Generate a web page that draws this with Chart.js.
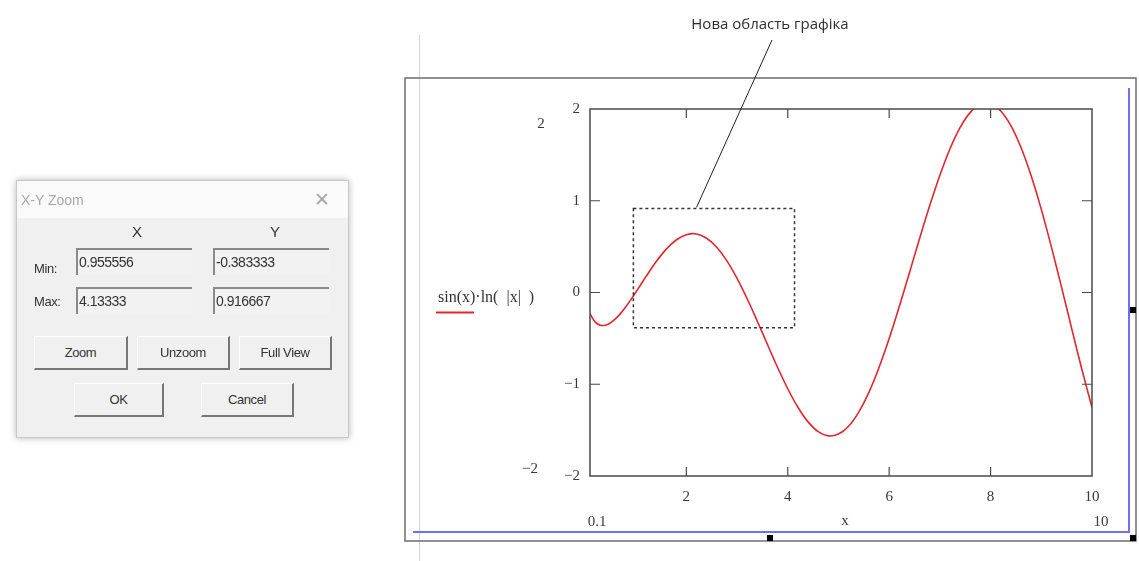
<!DOCTYPE html>
<html>
<head>
<meta charset="utf-8">
<script src="https://cdn.jsdelivr.net/npm/chart.js@4.4.0/dist/chart.umd.min.js"></script>
<style>
  body { margin: 0; width: 1139px; height: 561px; background: #fff; overflow: hidden; position: relative;
         font-family: "Liberation Sans", Arial, sans-serif; }
  #plot { position: absolute; left: 0; top: 0; }
  .note { position: absolute; left: 660px; top: 13px; width: 220px; text-align: center;
          font: 15px "Open Sans", "Noto Sans", sans-serif; color: #2e2e2e; }
  .dlg { position: absolute; left: 16px; top: 180px; width: 331px; height: 256px; background: #f0f0f0;
         border: 1px solid #c8c8c8; box-shadow: 0 0 7px rgba(0,0,0,0.28); }
  .dlg .bar { position: absolute; left: 0; top: 0; right: 0; height: 37px; background: #fafafa; }
  .dlg .ttl { position: absolute; left: 4px; top: 11px; font-size: 14px; color: #a8a8a8; }
  .dlg .cls { position: absolute; right: 18px; top: 7px; font-size: 19px; color: #a8a8a8; }
  .dlg .lbl { position: absolute; font-size: 13px; color: #333; letter-spacing: -0.4px; }
  .dlg .hdr { position: absolute; font-size: 15px; color: #333; }
  .dlg .fld { position: absolute; width: 116px; height: 27px; background: #f2f2f2;
              border-top: 2px solid #8a8a8a; border-left: 2px solid #8a8a8a;
              font-size: 14px; color: #333; line-height: 25px; padding-left: 1px; box-sizing: border-box;
              letter-spacing: -0.5px; }
  .dlg .btn { position: absolute; height: 34px; background: #f0f0f0; box-sizing: border-box;
              border-right: 2px solid #777; border-bottom: 2px solid #777;
              border-top: 1px solid #fff; border-left: 1px solid #fff;
              text-align: center; line-height: 31px; font-size: 13px; color: #333; letter-spacing: -0.4px; }
</style>
</head>
<body>
<canvas id="plot" width="1139" height="561"></canvas>
<div class="note">Нова область графіка</div>

<div class="dlg">
  <div class="bar"><span class="ttl">X-Y Zoom</span><span class="cls">✕</span></div>
  <span class="hdr" style="left:115px;top:42px">X</span>
  <span class="hdr" style="left:253px;top:42px">Y</span>
  <span class="lbl" style="left:17px;top:80px">Min:</span>
  <span class="lbl" style="left:17px;top:113px">Max:</span>
  <div class="fld" id="xmin" style="left:59px;top:67px"></div>
  <div class="fld" id="ymin" style="left:196px;top:67px"></div>
  <div class="fld" id="xmax" style="left:59px;top:106px"></div>
  <div class="fld" id="ymax" style="left:196px;top:106px"></div>
  <div class="btn" style="left:17px;top:155px;width:94px">Zoom</div>
  <div class="btn" style="left:120px;top:155px;width:93px">Unzoom</div>
  <div class="btn" style="left:222px;top:155px;width:93px">Full View</div>
  <div class="btn" style="left:57px;top:202px;width:90px">OK</div>
  <div class="btn" style="left:184px;top:202px;width:93px">Cancel</div>
</div>

<script>
// sin(x)*ln|x| sampled over the plotted range
const xValues = [0.1, 0.2, 0.3, 0.4, 0.5, 0.6, 0.7, 0.8, 0.9, 1.0, 1.1,
  1.2, 1.4, 1.6, 1.8, 2.0, 2.2, 2.4, 2.6, 2.8, 3.0, 3.2, 3.4, 3.6, 3.8, 4.0,
  4.2, 4.4, 4.6, 4.8, 5.0, 5.2, 5.4, 5.6, 5.8, 6.0, 6.2, 6.4, 6.6, 6.8, 7.0,
  7.2, 7.4, 7.6, 7.8, 8.0, 8.2, 8.4, 8.6, 8.8, 9.0, 9.2, 9.4, 9.6, 9.8, 10.0];
const yValues = [-0.230, -0.320, -0.356, -0.357, -0.332, -0.288, -0.230, -0.160, -0.083, 0.0, 0.085,
  0.170, 0.332, 0.470, 0.572, 0.630, 0.638, 0.591, 0.493, 0.345, 0.155, -0.068, -0.313, -0.567, -0.817, -1.049,
  -1.251, -1.410, -1.517, -1.563, -1.543, -1.457, -1.303, -1.088, -0.817, -0.501, -0.152, 0.216, 0.588, 0.947, 1.278,
  1.567, 1.799, 1.963, 2.051, 2.057, 1.979, 1.819, 1.580, 1.272, 0.906, 0.495, 0.056, -0.394, -0.837, -1.253];

const xTicks = [2, 4, 6, 8, 10];
const yTicks = [-2, -1, 0, 1, 2];
const xRange = [0.1, 10];
const yRange = [-2, 2];

// the rectangle picked in the X-Y Zoom dialog
const zoomX = [0.955556, 4.13333];
const zoomY = [-0.383333, 0.916667];
const zoomText = ['0.955556', '4.13333', '-0.383333', '0.916667'];

const seriesLabel = 'sin(x)·ln(  |x|  )';
const axisName = 'x';

document.getElementById('xmin').textContent = zoomText[0];
document.getElementById('xmax').textContent = zoomText[1];
document.getElementById('ymin').textContent = zoomText[2];
document.getElementById('ymax').textContent = zoomText[3];

const serif = '"Liberation Serif", "Times New Roman", serif';
const fmt = v => (v < 0 ? '\u2212' + Math.abs(v) : String(v));

// region frame, selection lines, inner ticks and the zoom box
const mathcadLook = {
  id: 'mathcadLook',
  beforeDraw(chart) {
    const ctx = chart.ctx;
    ctx.save();
    // worksheet margin line
    ctx.strokeStyle = '#d4d4d4';
    ctx.lineWidth = 1;
    ctx.beginPath(); ctx.moveTo(419.5, 35); ctx.lineTo(419.5, 561); ctx.stroke();
    // region frame
    ctx.strokeStyle = '#6e6e6e';
    ctx.lineWidth = 1.5;
    ctx.strokeRect(405, 78, 731, 463);
    // selection border
    ctx.strokeStyle = '#6f6ff2';
    ctx.lineWidth = 2;
    ctx.beginPath();
    ctx.moveTo(413, 532); ctx.lineTo(1129, 532); ctx.lineTo(1129, 88);
    ctx.stroke();
    ctx.restore();
  },
  afterDraw(chart) {
    const ctx = chart.ctx;
    const a = chart.chartArea;
    const xs = chart.scales.x, ys = chart.scales.y;
    ctx.save();
    ctx.strokeStyle = '#4a4a4a';
    ctx.lineWidth = 1.5;
    ctx.strokeRect(a.left, a.top, a.right - a.left, a.bottom - a.top);

    // inward tick marks on all four sides
    ctx.lineWidth = 1.2;
    ctx.beginPath();
    xTicks.filter(v => v < xRange[1]).forEach(v => {
      const px = xs.getPixelForValue(v);
      ctx.moveTo(px, a.bottom); ctx.lineTo(px, a.bottom - 9);
      ctx.moveTo(px, a.top); ctx.lineTo(px, a.top + 9);
    });
    yTicks.filter(v => v > yRange[0] && v < yRange[1]).forEach(v => {
      const py = ys.getPixelForValue(v);
      ctx.moveTo(a.left, py); ctx.lineTo(a.left + 10, py);
      ctx.moveTo(a.right, py); ctx.lineTo(a.right - 10, py);
    });
    ctx.stroke();

    // zoom box
    const zl = xs.getPixelForValue(zoomX[0]), zr = xs.getPixelForValue(zoomX[1]);
    const zt = ys.getPixelForValue(zoomY[1]), zb = ys.getPixelForValue(zoomY[0]);
    ctx.setLineDash([3, 3]);
    ctx.strokeStyle = '#333';
    ctx.lineWidth = 1.5;
    ctx.strokeRect(zl, zt, zr - zl, zb - zt);
    ctx.setLineDash([]);

    // leader from the zoom box to the note above
    ctx.lineWidth = 1;
    ctx.strokeStyle = '#222';
    ctx.beginPath();
    ctx.moveTo(xs.getPixelForValue(2.2), zt - 1);
    ctx.lineTo(772, 40);
    ctx.stroke();

    // range limit labels
    ctx.fillStyle = '#3a3a3a';
    ctx.font = '15px ' + serif;
    ctx.textBaseline = 'middle';
    ctx.textAlign = 'center';
    ctx.fillText(fmt(yRange[1]), a.left - 49, a.top + 15);
    ctx.fillText(fmt(yRange[0]), a.left - 60, a.bottom - 7);
    ctx.fillText(String(xRange[0]), a.left + 7, a.bottom + 46);
    ctx.fillText(String(xRange[1]), a.right + 9, a.bottom + 46);
    ctx.fillText(axisName, (a.left + a.right) / 2 + 4, a.bottom + 45);

    // trace label with its line sample
    ctx.textAlign = 'left';
    ctx.fillStyle = '#333';
    ctx.font = '16px ' + serif;
    ctx.fillText(seriesLabel, 438, ys.getPixelForValue(0) + 5);
    ctx.strokeStyle = chart.data.datasets[0].borderColor;
    ctx.lineWidth = 2;
    ctx.beginPath();
    ctx.moveTo(436, ys.getPixelForValue(0) + 20);
    ctx.lineTo(474, ys.getPixelForValue(0) + 20);
    ctx.stroke();

    // selection handles
    ctx.fillStyle = '#000';
    [[770, 538], [1133, 310], [1133, 538]].forEach(([hx, hy]) => ctx.fillRect(hx - 3, hy - 3, 6, 6));
    ctx.restore();
  }
};

const ctx = document.getElementById('plot').getContext('2d');
new Chart(ctx, {
  type: 'line',
  data: {
    datasets: [{
      label: seriesLabel,
      data: xValues.map((x, i) => ({ x: x, y: yValues[i] })),
      borderColor: '#e4262c',
      borderWidth: 1.6,
      pointRadius: 0,
      tension: 0.35,
      fill: false
    }]
  },
  options: {
    responsive: false,
    animation: false,
    layout: { padding: { left: 560, top: 109, right: 47, bottom: 55 } },
    plugins: { legend: { display: false }, tooltip: { enabled: false } },
    scales: {
      x: {
        type: 'linear',
        min: xRange[0],
        max: xRange[1],
        afterBuildTicks: s => { s.ticks = xTicks.map(v => ({ value: v })); },
        afterFit: s => { s.height = 30; },
        grid: { display: false, drawTicks: false },
        border: { display: false },
        ticks: { color: '#3a3a3a', font: { family: serif, size: 15 }, padding: 12, maxRotation: 0, autoSkip: false, callback: fmt }
      },
      y: {
        type: 'linear',
        min: yRange[0],
        max: yRange[1],
        afterBuildTicks: s => { s.ticks = yTicks.map(v => ({ value: v })); },
        afterFit: s => { s.width = 30; },
        grid: { display: false, drawTicks: false },
        border: { display: false },
        ticks: { color: '#3a3a3a', font: { family: serif, size: 15 }, padding: 10, autoSkip: false, callback: fmt }
      }
    }
  },
  plugins: [mathcadLook]
});
</script>
</body>
</html>
